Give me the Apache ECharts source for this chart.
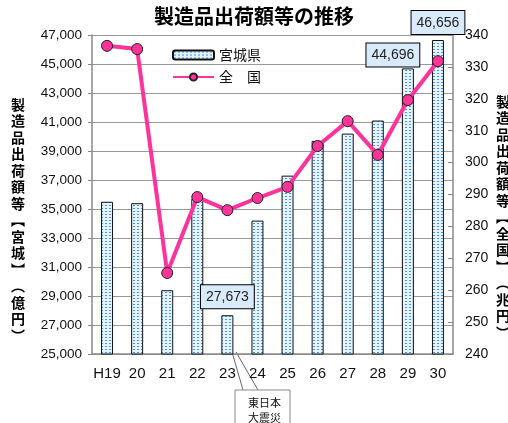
<!DOCTYPE html>
<html>
<head>
<meta charset="utf-8">
<script src="https://cdn.jsdelivr.net/npm/echarts@6/dist/echarts.min.js"></script>
<style>
html, body { margin: 0; padding: 0; background: #fff; }
#chart { width: 508px; height: 423px; }
</style>
</head>
<body>
<div id="chart"></div>
<script>
const years = ['H19', '20', '21', '22', '23', '24', '25', '26', '27', '28', '29', '30']
const miyagi = [35500, 35400, 29400, 35700, 27673, 34200, 37300, 39700, 40200, 41100, 44696, 46656] // 億円
const zenkoku = [336.6, 335.6, 265.4, 289.2, 285.1, 288.9, 292.4, 305.2, 313.0, 302.4, 319.6, 331.8] // 兆円
const leftRange = [25000, 47000, 2000]
const rightRange = [240, 340, 10]

const FONT = "'Liberation Sans', 'Noto Sans CJK JP', sans-serif"
const JP = "'Noto Sans CJK JP', sans-serif"

// dotted light-blue fill like the original spreadsheet bars
function dotPattern() {
  const c = document.createElement('canvas')
  c.width = 4
  c.height = 3
  const ctx = c.getContext('2d')
  ctx.fillStyle = '#e6f2fe'
  ctx.fillRect(0, 0, 4, 3)
  ctx.fillStyle = '#3f98f0'
  ctx.fillRect(1, 1, 2, 1)
  return c
}
const pattern = { image: dotPattern(), repeat: 'repeat' }

const boxLabel = {
  show: true,
  position: 'top',
  color: '#222',
  fontSize: 14,
  fontFamily: FONT,
  textBorderWidth: 0,
  textShadowBlur: 0,
  backgroundColor: '#d9eafb',
  borderColor: '#000',
  borderWidth: 1,
  padding: [5, 5, 4, 5],
  formatter: p => p.value.toLocaleString('en-US')
}
// which bars carry a value box, and how it sits
const labelled = {
  4: { distance: 7 },
  10: { distance: 2, offset: [-15, 0] },
  11: { distance: 6 }
}

const barData = miyagi.map((v, i) =>
  labelled[i] ? { value: v, label: Object.assign({}, boxLabel, labelled[i]) } : v
)

const vName = s => s.split('').join('\n')

const option = {
  animation: false,
  title: {
    text: '製造品出荷額等の推移',
    left: 'center',
    top: 1,
    textStyle: { fontSize: 20, fontWeight: 'bold', fontFamily: JP, color: '#000' }
  },
  legend: {
    orient: 'vertical',
    left: 167,
    top: 43,
    itemWidth: 41,
    itemHeight: 9,
    itemGap: 8,
    textStyle: { fontSize: 14, fontFamily: JP, color: '#111' },
    data: ['宮城県', '全　国']
  },
  grid: { left: 92, right: 55, top: 35, bottom: 69 },
  xAxis: {
    type: 'category',
    data: years,
    axisLine: { lineStyle: { color: '#888', width: 1.5 } },
    axisTick: { length: 5, lineStyle: { color: '#888' } },
    axisLabel: { interval: 0, color: '#111', fontSize: 15, fontFamily: FONT, margin: 12 }
  },
  yAxis: [
    {
      type: 'value',
      min: leftRange[0],
      max: leftRange[1],
      interval: leftRange[2],
      axisLine: { show: true, lineStyle: { color: '#888', width: 1.5 } },
      axisTick: { show: true, length: 4, lineStyle: { color: '#888' } },
      axisLabel: {
        color: '#111',
        fontSize: 13.5,
        fontFamily: FONT,
        margin: 10,
        formatter: v => v.toLocaleString('en-US')
      },
      splitLine: { lineStyle: { color: '#999', width: 1 } }
    },
    {
      type: 'value',
      min: rightRange[0],
      max: rightRange[1],
      interval: rightRange[2],
      axisLine: { show: true, lineStyle: { color: '#888', width: 1.5 } },
      axisTick: { show: true, inside: true, length: 5, lineStyle: { color: '#888' } },
      axisLabel: { color: '#111', fontSize: 14, fontFamily: FONT, margin: 12 },
      splitLine: { show: false }
    }
  ],
  series: [
    {
      name: '宮城県',
      type: 'bar',
      yAxisIndex: 0,
      barWidth: 12,
      itemStyle: { color: pattern, borderColor: '#111', borderWidth: 1 },
      data: barData
    },
    {
      name: '全　国',
      type: 'line',
      yAxisIndex: 1,
      z: 5,
      symbol: 'circle',
      symbolSize: 11,
      lineStyle: { color: '#ff3399', width: 4 },
      itemStyle: { color: '#ff3399', borderColor: '#222', borderWidth: 1 },
      data: zenkoku
    }
  ],
  graphic: [
    {
      type: 'text',
      left: 11,
      top: 96,
      style: {
        text: vName('製造品出荷額等︻宮城︼︵億円︶'),
        fontSize: 14,
        fontWeight: 'bold',
        fontFamily: JP,
        lineHeight: 16.5,
        fill: '#000'
      }
    },
    {
      type: 'text',
      left: 496,
      top: 93,
      style: {
        text: vName('製造品出荷額等︻全国︼︵兆円︶'),
        fontSize: 14,
        fontWeight: 'bold',
        fontFamily: JP,
        lineHeight: 16.5,
        fill: '#000'
      }
    },
    // 東日本大震災 callout
    {
      type: 'polyline',
      shape: { points: [[232, 352], [243, 390]] },
      style: { stroke: '#666', lineWidth: 1 }
    },
    {
      type: 'polyline',
      shape: { points: [[236, 352], [258, 390]] },
      style: { stroke: '#666', lineWidth: 1 }
    },
    {
      type: 'rect',
      shape: { x: 235, y: 390, width: 55, height: 40 },
      style: { fill: '#fff', stroke: '#888', lineWidth: 1 }
    },
    {
      type: 'text',
      left: 248,
      top: 395,
      style: {
        text: '東日本\n大震災',
        fontSize: 11,
        fontFamily: JP,
        lineHeight: 15,
        fill: '#111'
      }
    }
  ]
}

const chart = echarts.init(document.getElementById('chart'))
chart.setOption(option)
</script>
</body>
</html>
